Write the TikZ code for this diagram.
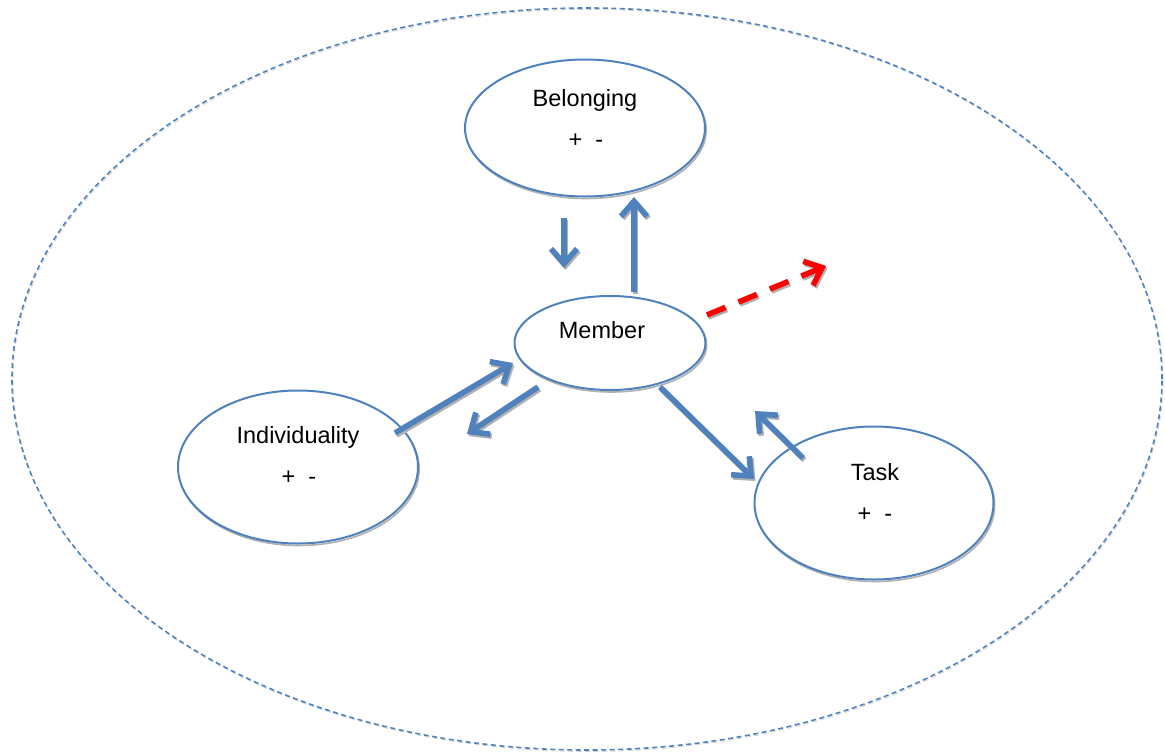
\documentclass[tikz,border=0pt]{standalone}
\usepackage{fontspec}
\setmainfont{Liberation Sans}
\usetikzlibrary{arrows.meta,shapes.geometric}
\definecolor{ofblue}{HTML}{4F81BD}
\definecolor{shade}{HTML}{B0B0B0}
\definecolor{ofred}{HTML}{FF0000}
\begin{document}
\begin{tikzpicture}[x=1pt,y=-1pt,
  bubble/.style={ellipse, draw=ofblue, line width=2pt, inner sep=0pt, fill=white,
    preaction={draw=shade, line width=1.6pt, transform canvas={xshift=1.2pt,yshift=-2pt}}},
  caption/.style={font=\fontsize{23.5}{27}\selectfont, anchor=base, inner sep=0pt},
  tip/.style={-{Straight Barb[length=15pt,width=26pt,line width=5.6pt]}},
  flow/.style={draw=ofblue, line width=5.6pt, tip,
    preaction={draw=shade, line width=5.6pt, tip, transform canvas={xshift=1.5pt,yshift=-2pt}}},
  escape/.style={draw=ofred, line width=5.6pt, dash pattern=on 20pt off 14pt, tip,
    preaction={draw=shade, line width=5.6pt, dash pattern=on 20pt off 14pt, tip, transform canvas={xshift=1.5pt,yshift=-2pt}}},
  frame/.style={ellipse, draw=ofblue, line width=1.6pt, dash pattern=on 5pt off 3.5pt, inner sep=0pt,
    preaction={draw=shade!60, line width=0.8pt, dash pattern=on 5pt off 3.5pt, transform canvas={xshift=1pt,yshift=-1.5pt}}}
]
\useasboundingbox (0,0) rectangle (1165,755);

% surrounding group boundary
\node (group) [frame, minimum width=1150pt, minimum height=742pt] at (587,379) {};

% the four bubbles
\node (belong) [bubble, minimum width=240pt, minimum height=137pt] at (585,128) {};
\node (member) [bubble, minimum width=191pt, minimum height=94pt] at (610,343) {};
\node (indiv)  [bubble, minimum width=240pt, minimum height=153pt] at (298,467) {};
\node (task)   [bubble, minimum width=239pt, minimum height=153pt] at (874,503) {};

% labels
\node (belongT) [caption] at (585,106) {Belonging};
\node (belongS) [caption] at (586,147) {+\ \ -};
\node (memberT) [caption] at (602,338) {Member};
\node (indivT)  [caption] at (298,443) {Individuality};
\node (indivS)  [caption] at (299,484) {+\ \ -};
\node (taskT)   [caption] at (875,480) {Task};
\node (taskS)   [caption] at (875,521) {+\ \ -};

% arrow end points
\coordinate (bdA) at (564,218);
\coordinate (bdB) at (564,268);
\coordinate (buA) at (634,292);
\coordinate (buB) at (634,197);
\coordinate (imA) at (395,433);
\coordinate (imB) at (513,363);
\coordinate (miA) at (538,387);
\coordinate (miB) at (467,434);
\coordinate (mtA) at (660,387);
\coordinate (mtB) at (754,479);
\coordinate (tmA) at (803,458);
\coordinate (tmB) at (755,411);
\coordinate (exA) at (707,315);
\coordinate (exB) at (826,266);

\draw[flow] (bdA) -- (bdB);
\draw[flow] (buA) -- (buB);
\draw[flow] (imA) -- (imB);
\draw[flow] (miA) -- (miB);
\draw[flow] (mtA) -- (mtB);
\draw[flow] (tmA) -- (tmB);
\draw[escape] (exA) -- (exB);
\end{tikzpicture}
\end{document}
